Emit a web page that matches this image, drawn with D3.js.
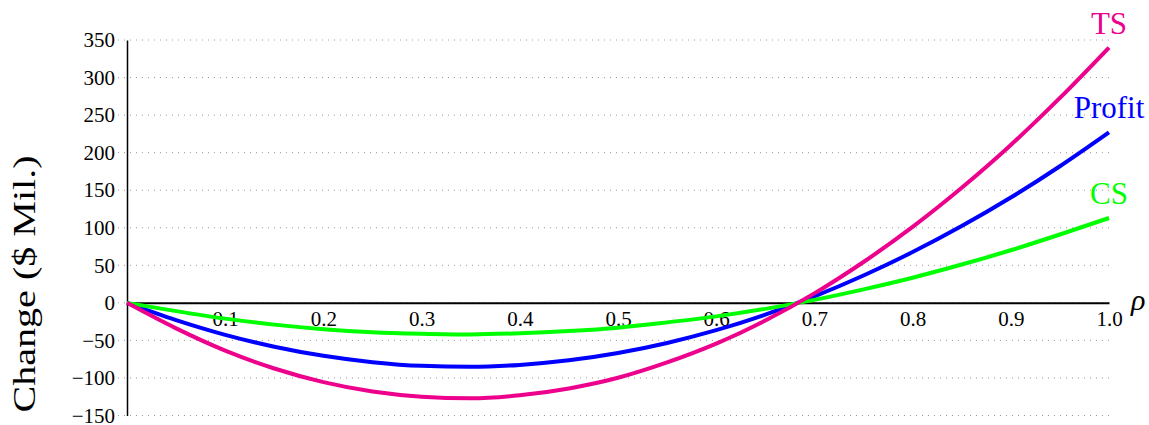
<!DOCTYPE html>
<html>
<head>
<meta charset="utf-8">
<script src="https://cdn.jsdelivr.net/npm/d3@7"></script>
<style>
  html, body { margin: 0; padding: 0; background: #fff; }
  svg { display: block; }
  text { font-family: "Liberation Serif", "Times New Roman", serif; fill: #000; }
</style>
</head>
<body>
<svg id="chart" width="1149" height="425"></svg>
<script>
// Share of the change, rho from 0 to 1
const rho = [0, 0.05, 0.1, 0.15, 0.2, 0.25, 0.3, 0.35, 0.4, 0.45, 0.5,
             0.55, 0.6, 0.65, 0.7, 0.75, 0.8, 0.85, 0.9, 0.95, 1.0];

// Change in $ millions for each series
const profit = [0, -23, -42.6, -58.4, -70.5, -79, -83.9, -85.1, -82.6, -76.5, -66.8,
                -53.4, -36.4, -15.6, 8.6, 36.4, 67.6, 102.2, 140.2, 181.9, 227];
const cs     = [0, -11, -21, -29, -35, -39, -41, -42, -40.5, -37.5, -33,
                -26, -18, -8, 4, 18, 33.5, 51, 70, 91, 113];
const ts     = [0, -34, -63.6, -87.4, -105.5, -118, -124.9, -127.1, -123.1, -114, -99.8,
                -79.4, -54.4, -23.6, 12.6, 54.4, 101.1, 153.2, 210.2, 272.9, 340];

const seriesNames  = ["Profit", "CS", "TS"];
const seriesColors = ["#0000ff", "#00ff00", "#ec008c"];

const xTicks = [0.1, 0.2, 0.3, 0.4, 0.5, 0.6, 0.7, 0.8, 0.9, 1.0];
const yTicks = [-150, -100, -50, 0, 50, 100, 150, 200, 250, 300, 350];

const svg = d3.select("#chart");

const x = d3.scaleLinear().domain([0, 1]).range([127, 1109]);
const y = d3.scaleLinear().domain([-150, 350]).range([415.5, 40]);

// dotted horizontal grid
svg.append("g")
  .selectAll("line")
  .data(yTicks)
  .join("line")
    .attr("x1", x(0) - 9)
    .attr("x2", x(1))
    .attr("y1", d => y(d))
    .attr("y2", d => y(d))
    .attr("stroke", "#9a9a9a")
    .attr("stroke-width", 1)
    .attr("stroke-dasharray", "1,5");

// y axis labels
const yAxis = d3.axisLeft(y)
  .tickValues(yTicks)
  .tickSize(0)
  .tickPadding(12)
  .tickFormat(d => d < 0 ? "\u2212" + Math.abs(d) : String(d));

const gy = svg.append("g")
  .attr("transform", `translate(${x(0)},0)`)
  .call(yAxis);
gy.select(".domain")
  .attr("stroke", "#000")
  .attr("stroke-width", 1.5);
gy.selectAll("text")
  .attr("font-family", "Liberation Serif, serif")
  .attr("font-size", 21)
  .attr("dy", "0.32em");

// x axis along zero
const xAxis = d3.axisBottom(x)
  .tickValues(xTicks)
  .tickSize(0)
  .tickPadding(8)
  .tickFormat(d3.format(".1f"));

const gx = svg.append("g")
  .attr("transform", `translate(0,${y(0)})`)
  .call(xAxis);
gx.select(".domain")
  .attr("stroke", "#000")
  .attr("stroke-width", 2);
gx.selectAll("text")
  .attr("font-family", "Liberation Serif, serif")
  .attr("font-size", 21)
  .attr("dy", "0.72em");

// curves
const seriesData = [profit, cs, ts];
const line = d3.line()
  .x((d, i) => x(rho[i]))
  .y(d => y(d))
  .curve(d3.curveMonotoneX);

svg.append("g")
  .selectAll("path")
  .data(seriesData)
  .join("path")
    .attr("d", d => line(d))
    .attr("fill", "none")
    .attr("stroke", (d, i) => seriesColors[i])
    .attr("stroke-width", 4);

// series labels above the end points
svg.append("g")
  .selectAll("text")
  .data(seriesData)
  .join("text")
    .attr("x", x(1))
    .attr("y", d => y(d[d.length - 1]) - 14)
    .attr("text-anchor", "middle")
    .attr("font-size", 31)
    .style("fill", (d, i) => seriesColors[i])
    .text((d, i) => seriesNames[i]);

// axis titles
svg.append("text")
  .attr("x", 1131)
  .attr("y", 310)
  .attr("font-size", 30)
  .attr("font-style", "italic")
  .text("\u03c1");

svg.append("text")
  .attr("transform", "translate(35,284) rotate(-90)")
  .attr("text-anchor", "middle")
  .attr("font-size", 31)
  .attr("textLength", 257)
  .attr("lengthAdjust", "spacingAndGlyphs")
  .text("Change ($ Mil.)");
</script>
</body>
</html>
